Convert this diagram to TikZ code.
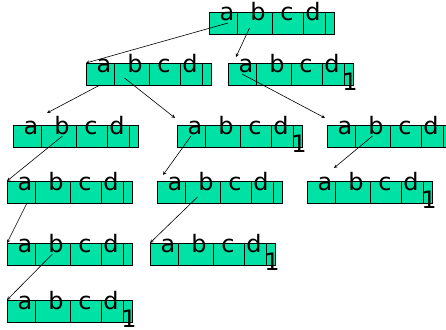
\documentclass[tikz,border=0pt]{standalone}
\usepackage{fontspec}
\setmainfont{DejaVu Sans}
\usetikzlibrary{positioning}
\definecolor{keygreen}{RGB}{0,226,165}
\tikzset{
	cell/.style={draw=black, fill=keygreen, line width=0.7pt, minimum height=22pt, inner sep=0pt, outer sep=0pt},
	key/.style={anchor=base, inner sep=0pt, font=\fontsize{24}{24}\selectfont},
	link/.style={->, >=stealth, line width=0.6pt}
}
% one record: name, left, top
\newcommand{\record}[3]{
	\node[cell, minimum width=28pt, anchor=north west] (#1-a) at (#2,#3) {};
	\node[cell, minimum width=35pt, right=0pt of #1-a] (#1-b) {};
	\node[cell, minimum width=31pt, right=0pt of #1-b] (#1-c) {};
	\node[cell, minimum width=22pt, right=0pt of #1-c] (#1-d) {};
	\node[cell, minimum width=9pt, right=0pt of #1-d] (#1-e) {};
	\foreach \ch/\dx in {a/18,b/49,c/78,d/104}
		\node[key] (#1-k\ch) at ([xshift=\dx pt, yshift=-9pt]#1-a.north west) {\ch};
}
\newcommand{\leafmark}[1]{
	\node[key] (#1-one) at ([xshift=1.5pt, yshift=-5.5pt]#1-e.south) {1};
}

\begin{document}
\begin{tikzpicture}[x=1pt, y=-1pt]
\clip (0,0) rectangle (446,329);

\record{root}{209}{12}
\record{n2l}{86}{63}
\record{n2r}{228}{63}
\record{n3l}{13}{125}
\record{n3m}{177}{125}
\record{n3r}{327}{125}
\record{n4l}{7}{181}
\record{n4m}{157}{181}
\record{n4r}{307}{181}
\record{n5l}{7}{243}
\record{n5m}{150}{243}
\record{n6l}{7}{300}

\leafmark{n2r}
\leafmark{n3m}
\leafmark{n4r}
\leafmark{n5m}
\leafmark{n6l}

\draw[link] ([xshift=5pt]root-a.center) -- (n2l-a.north west);
\draw[link] ([xshift=-5pt, yshift=-5pt]root-b.center) -- ([xshift=8pt, yshift=6pt]n2r-a.north west);
\draw[link] (n2l-a.south) -- ([xshift=6pt, yshift=12pt]n3l-b.north west);
\draw[link] ([xshift=-7pt, yshift=-4pt]n2l-b.center) -- ([xshift=-2pt, yshift=7pt]n3m-a.north west);
\draw[link] (n2r-a.center) -- ([xshift=-2pt, yshift=7pt]n3r-a.north west);
\draw[link] ([xshift=4pt]n3l-b.center) -- (n4l-a.north west);
\draw[link] (n3m-a.center) -- ([xshift=6pt, yshift=6pt]n4m-a.north west);
\draw[link] (n3r-b.center) -- ([xshift=-1pt, yshift=13pt]n4r-b.north west);
\draw[link] ([xshift=6pt]n4l-a.south) -- (n5l-a.north west);
\draw[link] ([xshift=-5pt, yshift=-5pt]n4m-b.center) -- (n5m-a.north west);
\draw[link] (n5l-b.center) -- (n6l-a.north west);
\end{tikzpicture}
\end{document}
